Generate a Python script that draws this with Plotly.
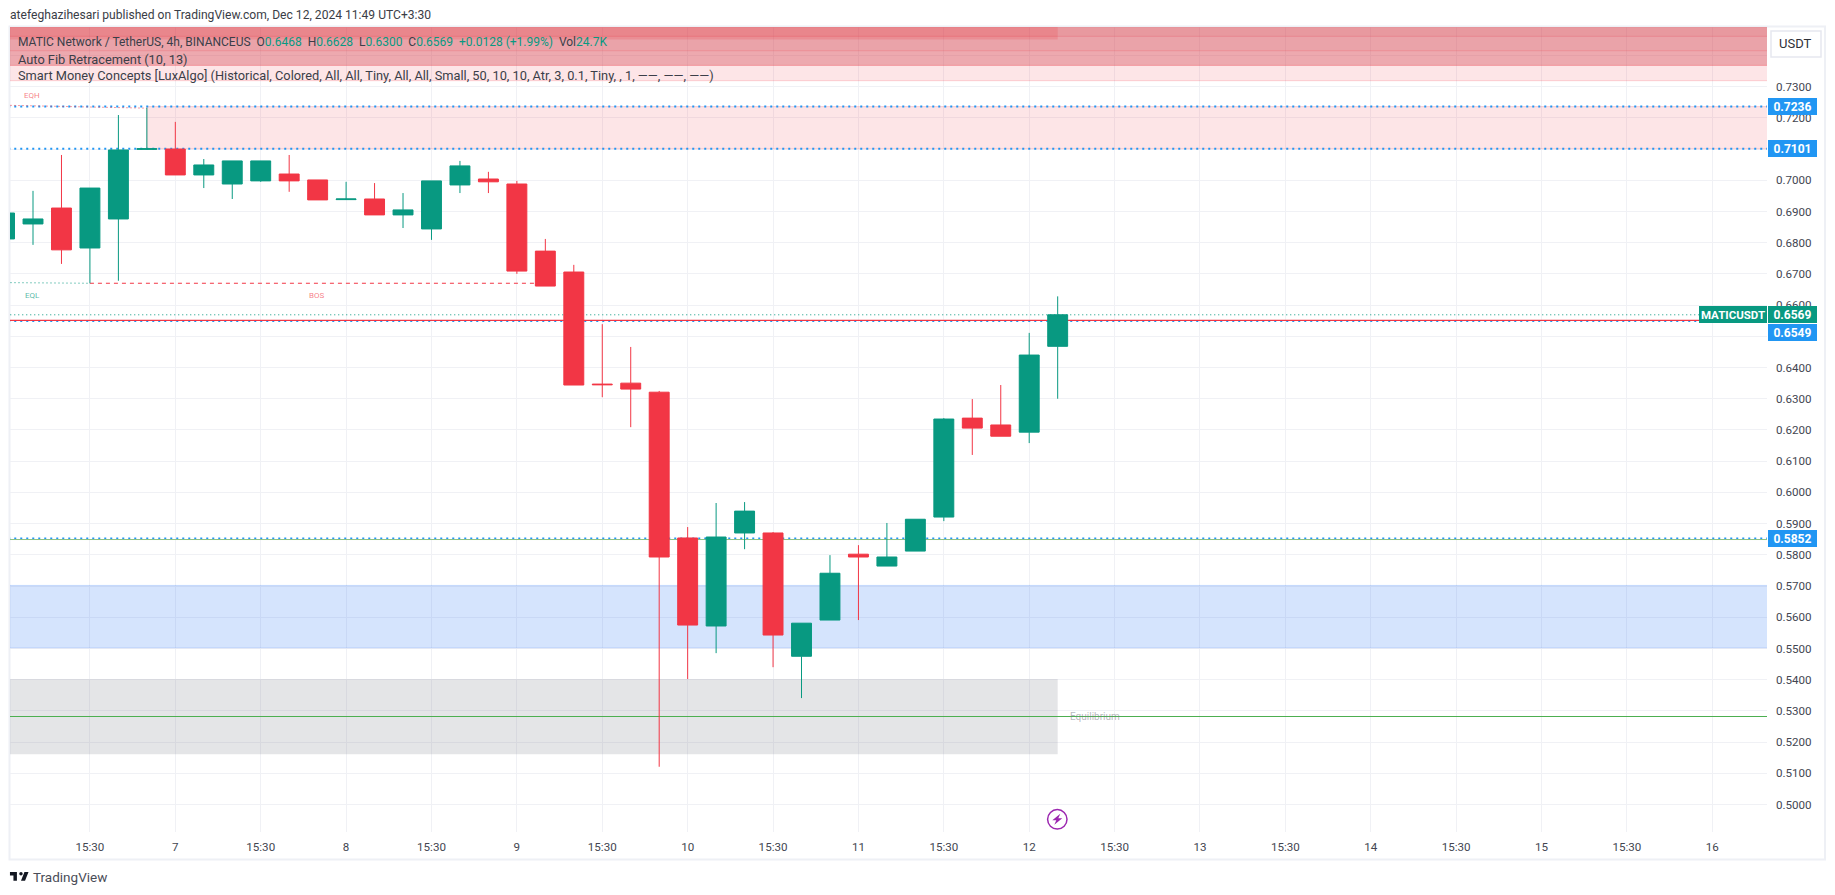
import plotly.graph_objects as go

W, H = 1835, 895
L, R, T, B = 10, 1767, 27, 832

times = ["2024-12-06 03:30","2024-12-06 07:30","2024-12-06 11:30","2024-12-06 15:30","2024-12-06 19:30","2024-12-06 23:30",
         "2024-12-07 03:30","2024-12-07 07:30","2024-12-07 11:30","2024-12-07 15:30","2024-12-07 19:30","2024-12-07 23:30",
         "2024-12-08 03:30","2024-12-08 07:30","2024-12-08 11:30","2024-12-08 15:30","2024-12-08 19:30","2024-12-08 23:30",
         "2024-12-09 03:30","2024-12-09 07:30","2024-12-09 11:30","2024-12-09 15:30","2024-12-09 19:30","2024-12-09 23:30",
         "2024-12-10 03:30","2024-12-10 07:30","2024-12-10 11:30","2024-12-10 15:30","2024-12-10 19:30","2024-12-10 23:30",
         "2024-12-11 03:30","2024-12-11 07:30","2024-12-11 11:30","2024-12-11 15:30","2024-12-11 19:30","2024-12-11 23:30",
         "2024-12-12 03:30","2024-12-12 07:30"]
opens = [.6812,.6860,.6911,.6783,.6876,.7099,.7100,.7017,.6988,.6998,.7020,.7001,.6938,.6940,.6889,.6844,.6985,.7004,
         .6988,.6773,.6706,.6347,.6350,.6321,.5854,.5572,.5870,.5870,.5475,.5591,.5802,.5764,.5812,.5921,.6238,.6216,.6193,.6468]
highs = [.6895,.6966,.7081,.6975,.7209,.7232,.7187,.7068,.7062,.7062,.7081,.7001,.6995,.6991,.6959,.6998,.7062,.7027,
         .6998,.6812,.6729,.6539,.6466,.6325,.5889,.5966,.5969,.5873,.5581,.5799,.5831,.5902,.5914,.6238,.6299,.6344,.6511,.6628]
lows  = [.6812,.6793,.6732,.6670,.6678,.7099,.7017,.6975,.6940,.6995,.6963,.6937,.6938,.6889,.6847,.6809,.6959,.6959,
         .6700,.6661,.6344,.6305,.6209,.5121,.5402,.5485,.5818,.5440,.5341,.5591,.5591,.5764,.5812,.5908,.6120,.6180,.6158,.6300]
closes= [.6895,.6876,.6777,.6975,.7097,.7101,.7017,.7049,.7062,.7062,.6998,.6937,.6940,.6889,.6905,.6998,.7046,.6995,
         .6709,.6661,.6344,.6345,.6331,.5793,.5575,.5857,.5940,.5543,.5581,.5741,.5793,.5793,.5914,.6235,.6206,.6180,.6440,.6569]

xmin, xmax = "2024-12-06 04:16", "2024-12-16 11:11"
xlo, xhi = "2024-12-05 12:00", "2024-12-17 12:00"   # beyond the axis range, so only top/bottom edges show
ymin, ymax = 0.4912, 0.7491
ytop = 0.7600

y_ticks = [.50,.51,.52,.53,.54,.55,.56,.57,.58,.59,.60,.61,.62,.63,.64,.65,.66,.67,.68,.69,.70,.71,.72,.73,.74]
y_labels = ["0.5000","0.5100","0.5200","0.5300","0.5400","0.5500","0.5600","0.5700","0.5800","0.5900","0.6000","0.6100",
            "0.6200","0.6300","0.6400","0.6500","0.6600","0.6700","0.6800","0.6900","0.7000","0.7100","0.7200","0.7300",""]
x_ticks = ["2024-12-06 15:30","2024-12-07 03:30","2024-12-07 15:30","2024-12-08 03:30","2024-12-08 15:30","2024-12-09 03:30",
           "2024-12-09 15:30","2024-12-10 03:30","2024-12-10 15:30","2024-12-11 03:30","2024-12-11 15:30","2024-12-12 03:30",
           "2024-12-12 15:30","2024-12-13 03:30","2024-12-13 15:30","2024-12-14 03:30","2024-12-14 15:30","2024-12-15 03:30",
           "2024-12-15 15:30","2024-12-16 03:30"]
x_labels = ["15:30","7","15:30","8","15:30","9","15:30","10","15:30","11","15:30","12","15:30","13","15:30","14","15:30","15","15:30","16"]

GREEN, RED, BLUE = "#089981", "#F23645", "#2196F3"
FONT = "Roboto"
TXT = "#3b3e48"
AX = "#434651"


def px(x):
    return (x - L) / (R - L)


def py(y):
    return (B - y) / (B - T)


def poly(pts):
    return "M " + " L ".join(f"{px(a):.6f},{py(b):.6f}" for a, b in pts) + " Z"


def band(x0, x1, y0, y1, fill, edge=None):
    return dict(type="rect", xref="x", yref="y", x0=x0, x1=x1, y0=y0, y1=y1, fillcolor=fill,
                line=dict(color=edge or "rgba(0,0,0,0)", width=1), layer="between")


def hline(x0, x1, y0, color, width=1, dash="solid", y1=None):
    return dict(type="line", xref="x", yref="y", x0=x0, x1=x1, y0=y0, y1=y0 if y1 is None else y1,
                line=dict(color=color, width=width, dash=dash), layer="between")


LAST = times[-1]
shapes = [
    # stacked zones along the top
    band(xlo, xhi, .7319, ytop, "rgba(242,54,69,0.13)", "rgba(242,54,69,0.2)"),
    band(xlo, xhi, .7368, ytop, "rgba(205,50,60,0.33)", "rgba(242,54,69,0.3)"),
    band(xlo, xhi, .7415, ytop, "rgba(205,50,60,0.05)", "rgba(242,54,69,0.2)"),
    band(xlo, xhi, .7461, ytop, "rgba(220,40,50,0.08)", "rgba(242,54,69,0.2)"),
    band(xlo, LAST, .7451, ytop, "rgba(240,40,50,0.17)"),
    # order blocks
    band(times[5], xhi, .7101, .7236, "rgba(242,54,69,0.13)", "rgba(242,54,69,0.2)"),
    band(xlo, xhi, .5502, .5702, "rgba(33,110,245,0.19)", "rgba(33,110,245,0.2)"),
    band(xlo, LAST, .5161, .5402, "rgba(120,123,134,0.2)"),
]
for lvl in (.7236, .7101, .6549, .5852):
    shapes.append(hline(xlo, xhi, lvl, BLUE, 2, "2px,4px"))
shapes += [
    # levels
    hline(xmin, times[5], .7240, "rgba(242,54,69,0.5)", 1, "2px,2px", y1=.7231),
    hline(xmin, times[3], .6672, "rgba(8,153,129,0.5)", 1, "2px,2px", y1=.6670),
    hline(times[3], times[19], .6670, RED, 1, "4px,4px"),
    hline(xlo, xhi, .5282, "#4CAF50", 1.2),
    hline(xlo, xhi, .5849, "#8CC084", 1),
    hline(xlo, xhi, .6551, RED, 1.2),
    hline(xlo, xhi, .6569, GREEN, 1, "1px,3px"),
]

# frame
shapes.append(dict(type="rect", xref="paper", yref="paper", x0=px(9.5), x1=px(1825), y0=py(859.5), y1=py(26.5),
                   line=dict(color="#EEF0F5", width=2), layer="below"))
# USDT button
shapes.append(dict(type="rect", xref="paper", yref="paper", x0=px(1771), x1=px(1821), y0=py(57), y1=py(31),
                   line=dict(color="#E6E8EF", width=1.5), fillcolor="white", layer="above"))
# lightning badge
cx, cy = 1057.3, 819.3
shapes.append(dict(type="circle", xref="paper", yref="paper", x0=px(cx - 9.7), x1=px(cx + 9.7), y0=py(cy + 9.7), y1=py(cy - 9.7),
                   line=dict(color="#9C27B0", width=1.5), fillcolor="white", layer="above"))
shapes.append(dict(type="path", xref="paper", yref="paper", layer="above", fillcolor="#9C27B0", line=dict(width=0),
                   path=poly([(cx + 3, cy - 5.5), (cx - 5, cy + 1), (cx - 1, cy + 1), (cx - 3, cy + 5.5), (cx + 5, cy - 1), (cx + 1, cy - 1)])))
# TradingView logo
s, ox, oy = 0.58, 8.8, 868.5
def lg(a, b):
    return (ox + a * s, oy + b * s)
shapes.append(dict(type="path", xref="paper", yref="paper", layer="above", fillcolor="#131722", line=dict(width=0),
                   path=poly([lg(2, 6), lg(14, 6), lg(14, 21), lg(8, 21), lg(8, 12), lg(2, 12)])))
shapes.append(dict(type="path", xref="paper", yref="paper", layer="above", fillcolor="#131722", line=dict(width=0),
                   path=poly([lg(21, 21), lg(27, 6), lg(34, 6), lg(28, 21)])))
shapes.append(dict(type="circle", xref="paper", yref="paper", layer="above", fillcolor="#131722", line=dict(width=0),
                   x0=px(lg(18, 0)[0]), x1=px(lg(24, 0)[0]), y0=py(lg(0, 12)[1]), y1=py(lg(0, 6)[1])))


def text_px(x, y, s, size=12, color=TXT, anchor="left", family=FONT):
    return dict(xref="paper", yref="paper", x=px(x), y=py(y), text=s, showarrow=False, xanchor=anchor, yanchor="middle",
                font=dict(family=family, size=size, color=color), borderpad=0, borderwidth=0)


def g(t):
    return f'<span style="color:{GREEN}">{t}</span>'


sp = "\u00a0"
row1 = ("MATIC Network / TetherUS, 4h, BINANCEUS" + sp * 2 + "O" + g("0.6468") + sp * 2 + "H" + g("0.6628") + sp * 2 + "L" + g("0.6300")
        + sp * 2 + "C" + g("0.6569") + sp * 2 + g("+0.0128 (+1.99%)") + sp * 2 + "Vol" + g("24.7K"))
row3 = ("Smart Money Concepts [LuxAlgo] (Historical, Colored, All, All, Tiny, All, All, Small, 50, 10, 10, Atr, 3, 0.1, Tiny, , 1, "
        "\u2014\u2014, \u2014\u2014, \u2014\u2014)")


def price_box(value, label, color, yshift=0):
    return dict(xref="paper", yref="y", x=1, y=value, xanchor="left", yanchor="middle", xshift=1, yshift=yshift, text=f"<b>{label}</b>",
                showarrow=False, bgcolor=color, width=49, height=17, borderpad=0, borderwidth=0, align="center",
                font=dict(family=FONT, size=12, color="white"))


annotations = [
    text_px(10, 15, "atefeghazihesari published on TradingView.com, Dec 12, 2024 11:49 UTC+3:30", 12.1, "#3a3d46"),
    text_px(17.5, 42, row1, 12),
    text_px(17.5, 59, "Auto Fib Retracement (10, 13)", 12.8),
    text_px(17.5, 76, row3, 12.8),
    text_px(32, 95.5, "EQH", 8, "rgba(242,54,69,0.65)", "center"),
    text_px(32.5, 295.5, "EQL", 8, "rgba(8,153,129,0.7)", "center"),
    text_px(316.5, 295.5, "BOS", 8, "rgba(242,54,69,0.65)", "center"),
    text_px(1070, 716.5, "Equilibrium", 10, "rgba(120,123,134,0.55)"),
    text_px(1796, 44, "USDT", 13, "#2e3038", "center"),
    text_px(33, 877, "TradingView", 13.5, "#4a4d57"),
    dict(xref="paper", yref="y", x=1, y=.6569, xanchor="right", yanchor="middle", text="<b>MATICUSDT</b>", showarrow=False,
         bgcolor=GREEN, width=68, height=17, borderpad=0, borderwidth=0, align="center", font=dict(family=FONT, size=11.5, color="white")),
    price_box(.7236, "0.7236", BLUE),
    price_box(.7101, "0.7101", BLUE),
    price_box(.6549, "0.6549", BLUE, -11.5),
    price_box(.6569, "0.6569", GREEN),
    price_box(.5852, "0.5852", BLUE),
]

fig = go.Figure(go.Candlestick(
    x=times, open=opens, high=highs, low=lows, close=closes, whiskerwidth=0,
    increasing=dict(fillcolor=GREEN, line=dict(color=GREEN, width=1)),
    decreasing=dict(fillcolor=RED, line=dict(color=RED, width=1)),
))
GRID = "#F0F1F5"
fig.update_layout(
    width=W, height=H, margin=dict(l=L, r=W - R, t=T, b=H - B, autoexpand=False),
    paper_bgcolor="white", plot_bgcolor="white", showlegend=False, hovermode=False, boxgap=0.3, boxgroupgap=0,
    shapes=shapes, annotations=annotations,
    xaxis=dict(type="date", range=[xmin, xmax], rangeslider=dict(visible=False), tickmode="array", tickvals=x_ticks, ticktext=x_labels,
               showgrid=True, gridcolor=GRID, gridwidth=1, zeroline=False, showline=False, ticks="", ticklabelstandoff=6,
               tickangle=0, tickfont=dict(family=FONT, size=11.6, color=AX)),
    yaxis=dict(side="right", range=[ymin, ymax], tickmode="array", tickvals=y_ticks, ticktext=y_labels,
               showgrid=True, gridcolor=GRID, gridwidth=1, zeroline=False, showline=False, ticks="", ticklabelstandoff=8,
               tickfont=dict(family=FONT, size=11.6, color=AX)),
)
fig.write_html("out.html", config={"displayModeBar": False}, post_script="document.body.style.margin='0';")
